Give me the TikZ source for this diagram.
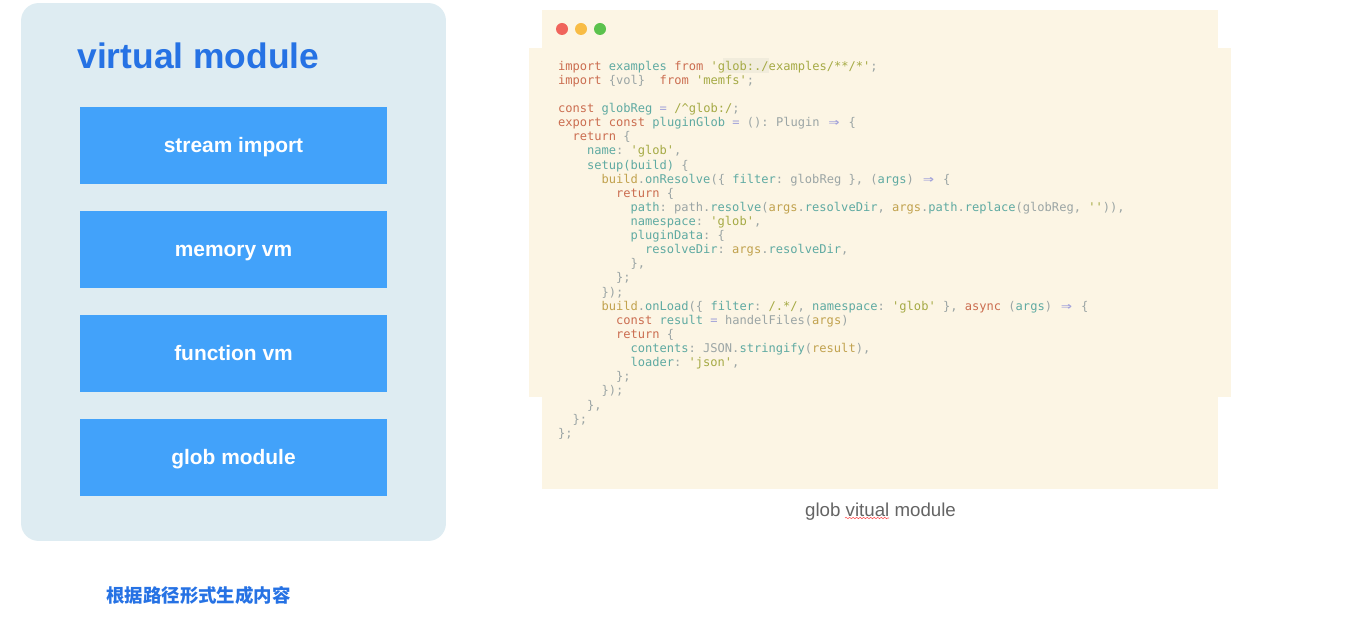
\documentclass[tikz,border=0pt]{standalone}
\usepackage{fontspec}
\setmainfont{Liberation Sans}
\newfontfamily\cjkfont{Noto Sans CJK SC}
\newfontfamily\codefont{DejaVu Sans Mono}
\usepackage{xcolor}
\usepackage{tikz}
\usetikzlibrary{decorations.pathmorphing}

\definecolor{panelbg}{HTML}{DEECF2}
\definecolor{boxblue}{HTML}{42A2FA}
\definecolor{titleblue}{HTML}{2672E4}
\definecolor{codebg}{HTML}{FCF5E4}
\definecolor{codemark}{HTML}{F1ECDC}
\definecolor{codegray}{HTML}{9BA5A5}
\definecolor{codered}{HTML}{CB6D50}
\definecolor{codeteal}{HTML}{5FAAA2}
\definecolor{codeolive}{HTML}{A5AA45}
\definecolor{codegold}{HTML}{C1A24E}
\definecolor{codepurple}{HTML}{A3A3DA}

\newcommand{\kw}[1]{\textcolor{codered}{#1}}
\newcommand{\tl}[1]{\textcolor{codeteal}{#1}}
\newcommand{\st}[1]{\textcolor{codeolive}{#1}}
\newcommand{\gd}[1]{\textcolor{codegold}{#1}}
\newcommand{\pr}[1]{\textcolor{codepurple}{#1}}
\newcommand{\fatarrow}{\pr{\makebox[1.204em][c]{\bfseries\scalebox{1.5}[1.1]{⇒}}}}
\newcommand{\codeline}[3]{\node[codetext] (line#1) at ({558+7.25*#2},{70.2+14.12*#1}) {#3};}

\tikzset{
  panelbox/.style={fill=panelbg, rounded corners=10pt, minimum width=8.5cm, minimum height=10.76cm, outer sep=0pt, inner sep=0pt},
  modbox/.style={fill=boxblue, text=white, font=\fontsize{11.9}{14}\selectfont\bfseries, text height=10pt, text depth=2.1pt, minimum width=6.16cm, minimum height=1.54cm, outer sep=0pt, inner sep=0pt},
  codetext/.style={anchor=base west, inner sep=0pt, outer sep=0pt, text=codegray, font=\codefont\fontsize{6.87}{8}\selectfont\frenchspacing},
  dotlight/.style={circle, minimum size=0.24cm, inner sep=0pt, outer sep=0pt},
}

\begin{document}
\begin{tikzpicture}[x=0.02cm,y=-0.02cm]

\useasboundingbox (0,0) rectangle (1348,634);

% left panel
\node[panelbox] (panel) at (233.5,272) {};
\node[anchor=base west, inner sep=0pt, text=titleblue, font=\fontsize{20.15}{22}\selectfont\bfseries] (title) at (77,69) {virtual module};

\node[modbox] (stream) at (233.5,145.5) {stream import};
\node[modbox] (memory) at (233.5,249.5) {memory vm};
\node[modbox] (function) at (233.5,353.5) {function vm};
\node[modbox] (glob) at (233.5,457.5) {glob module};

\node[text=titleblue, inner sep=0pt, font=\cjkfont\fontsize{10.5}{12}\selectfont\bfseries] (note) at (198.5,595) {根据路径形式生成内容};

% code window
\fill[codebg] (542,10) rectangle (1218,489);
\fill[codebg] (529,48) rectangle (1231,397);
\fill[codemark] (723,58) rectangle (769,73);

\node[dotlight, fill={rgb,255:red,240;green,100;blue,92}] (dotred) at (562,29) {};
\node[dotlight, fill={rgb,255:red,248;green,188;blue,69}] (dotorange) at (581,29) {};
\node[dotlight, fill={rgb,255:red,91;green,194;blue,77}] (dotgreen) at (600,29) {};

\codeline{0}{0}{\kw{import} \tl{examples} \kw{from} \st{'glob:./examples/**/*'};}
\codeline{1}{0}{\kw{import} \{vol\}\ \ \kw{from} \st{'memfs'};}
\codeline{3}{0}{\kw{const} \tl{globReg} \pr{=} \st{/\textasciicircum glob:/};}
\codeline{4}{0}{\kw{export} \kw{const} \tl{pluginGlob} \pr{=} (): Plugin \fatarrow{} \{}
\codeline{5}{2}{\kw{return} \{}
\codeline{6}{4}{\tl{name}: \st{'glob'},}
\codeline{7}{4}{\tl{setup(build)} \{}
\codeline{8}{6}{\gd{build}.\tl{onResolve}(\{ \tl{filter}: globReg \}, (\tl{args}) \fatarrow{} \{}
\codeline{9}{8}{\kw{return} \{}
\codeline{10}{10}{\tl{path}: path.\tl{resolve}(\gd{args}.\tl{resolveDir}, \gd{args}.\tl{path}.\tl{replace}(globReg, \st{''})),}
\codeline{11}{10}{\tl{namespace}: \st{'glob'},}
\codeline{12}{10}{\tl{pluginData}: \{}
\codeline{13}{12}{\tl{resolveDir}: \gd{args}.\tl{resolveDir},}
\codeline{14}{10}{\},}
\codeline{15}{8}{\};}
\codeline{16}{6}{\});}
\codeline{17}{6}{\gd{build}.\tl{onLoad}(\{ \tl{filter}: \st{/.*/}, \tl{namespace}: \st{'glob'} \}, \kw{async} (\tl{args}) \fatarrow{} \{}
\codeline{18}{8}{\kw{const} \tl{result} \pr{=} handelFiles(\gd{args})}
\codeline{19}{8}{\kw{return} \{}
\codeline{20}{10}{\tl{contents}: JSON.\tl{stringify}(\gd{result}),}
\codeline{21}{10}{\tl{loader}: \st{'json'},}
\codeline{22}{8}{\};}
\codeline{23}{6}{\});}
\codeline{24}{4}{\},}
\codeline{25}{2}{\};}
\codeline{26}{0}{\};}

% caption
\node[anchor=base, inner sep=0pt, text={rgb,255:red,100;green,100;blue,100}, font=\fontsize{10.65}{13}\selectfont] (caption) at (880.5,516.5) {glob vitual module};
\draw[red!70, line width=0.3pt, decorate, decoration={snake, amplitude=0.4pt, segment length=2pt}] (845,518) -- (889,518);

\end{tikzpicture}
\end{document}
